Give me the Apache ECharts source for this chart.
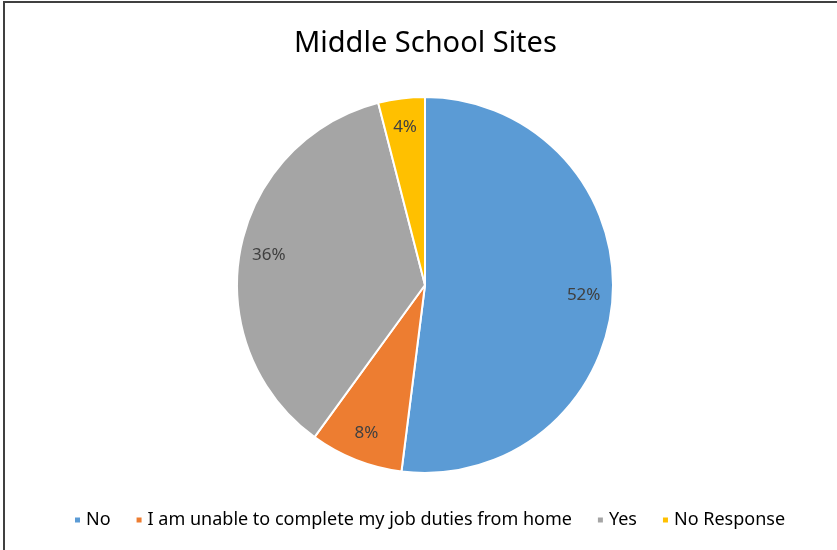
<!DOCTYPE html>
<html><head><meta charset="utf-8">
<script src="https://cdn.jsdelivr.net/npm/echarts@6/dist/echarts.min.js"></script>
<style>html,body{margin:0;padding:0;background:#fff}#c{width:837px;height:550px}</style>
</head><body><div id="c"></div>
<script>
const categories = ["No", "I am unable to complete my job duties from home", "Yes", "No Response"];
const values = [52, 8, 36, 4];
const colors = ["#5B9BD5", "#ED7D31", "#A5A5A5", "#FFC000"];
const titleText = "Middle School Sites";

const data = categories.map((n, i) => ({ name: n, value: values[i], itemStyle: { color: colors[i] } }));
const chart = echarts.init(document.getElementById('c'));
chart.setOption({
  animation: false,
  graphic: [{ type: 'rect', shape: { x: 4, y: 2, width: 900, height: 600 }, style: { fill: 'none', stroke: '#404040', lineWidth: 2 }, silent: true }],
  title: { text: titleText, left: 289, top: 24, textStyle: { fontFamily: 'Noto Sans', fontSize: 29, fontWeight: 'normal', color: '#000' } },
  legend: {
    bottom: 16, left: 68, icon: 'rect', itemWidth: 7, itemHeight: 7, itemGap: 24,
    textStyle: { fontFamily: 'Noto Sans', fontSize: 18, color: '#000' },
    data: categories
  },
  series: [
    {
      type: 'pie', center: [425, 285], radius: [0, 188], startAngle: 90, clockwise: true,
      label: { show: false }, labelLine: { show: false },
      itemStyle: { borderColor: '#fff', borderWidth: 2 },
      emphasis: { disabled: true },
      data: data
    },
    {
      type: 'pie', center: [425, 285], radius: [142, 170], startAngle: 90, clockwise: true, silent: true,
      itemStyle: { color: 'rgba(0,0,0,0)' },
      label: { show: true, position: 'inside', formatter: '{c}%', fontFamily: 'Noto Sans', fontSize: 17, color: '#404040' },
      labelLine: { show: false },
      emphasis: { disabled: true },
      data: categories.map((n, i) => ({ name: n, value: values[i] }))
    }
  ]
});
</script></body></html>
